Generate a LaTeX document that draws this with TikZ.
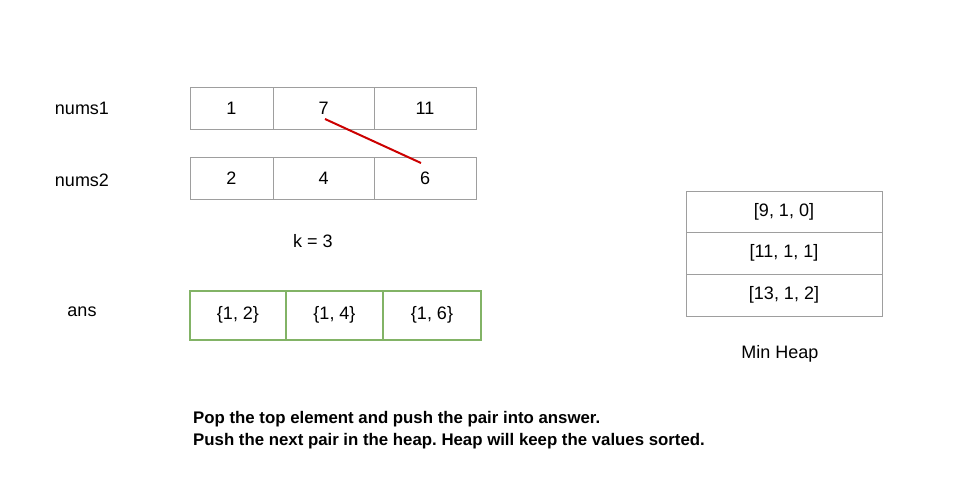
\documentclass[tikz,border=0pt]{standalone}
\usepackage{fontspec}
\setmainfont{Liberation Sans}
\usetikzlibrary{calc}
\frenchspacing
\definecolor{cellgray}{HTML}{9E9E9E}
\definecolor{ansgreen}{HTML}{82B366}
\definecolor{linered}{HTML}{CC0000}
\tikzset{
  cell/.style={draw=cellgray, line width=1pt, inner sep=0pt, font=\fontsize{18}{20}\selectfont},
  anscell/.style={draw=ansgreen, line width=2pt, inner sep=0pt, minimum height=49, font=\fontsize{18}{20}\selectfont},
  lbl/.style={inner sep=0pt, font=\fontsize{18}{20}\selectfont},
  note/.style={inner sep=0pt, anchor=north west, align=left, font=\fontsize{16.8}{22}\selectfont\bfseries}
}
\begin{document}
\begin{tikzpicture}[x=1pt,y=-1pt]
\useasboundingbox[fill=white] (0,0) rectangle (960,480);
% labels
\node[lbl] (l1) at (82,108) {nums1};
\node[lbl] (l2) at (82,180) {nums2};
\node[lbl] (l3) at (82,312) {ans};
\node[lbl] (k) at (313,241) {k = 3};
\node[lbl] (mh) at (780,354) {Min Heap};
% nums1
\node[cell, minimum width=83, minimum height=42] (a1) at (231.5,108) {1};
\node[cell, minimum width=101, minimum height=42] (a2) at (323.5,108) {7};
\node[cell, minimum width=102, minimum height=42] (a3) at (425,108) {11};
% nums2
\node[cell, minimum width=83, minimum height=42] (b1) at (231.5,178) {2};
\node[cell, minimum width=101, minimum height=42] (b2) at (323.5,178) {4};
\node[cell, minimum width=102, minimum height=42] (b3) at (425,178) {6};
% red line
\draw[linered, line width=2pt] ($(a2.center)+(1.5,11)$) -- ($(b3.center)+(-4,-15)$);
% ans
\node[anscell, minimum width=96] (c1) at (238,315) {\{1, 2\}};
\node[anscell, minimum width=97] (c2) at (334.5,315) {\{1, 4\}};
\node[anscell, minimum width=98] (c3) at (432,315) {\{1, 6\}};
% heap
\node[cell, minimum width=196, minimum height=41] (h1) at (784,211.5) {[9, 1, 0]};
\node[cell, minimum width=196, minimum height=42] (h2) at (784,253) {[11, 1, 1]};
\node[cell, minimum width=196, minimum height=42] (h3) at (784,295) {[13, 1, 2]};
% note
\node[note] (t) at (193,411) {Pop the top element and push the pair into answer.\\Push the next pair in the heap. Heap will keep the values sorted.};
\end{tikzpicture}
\end{document}
